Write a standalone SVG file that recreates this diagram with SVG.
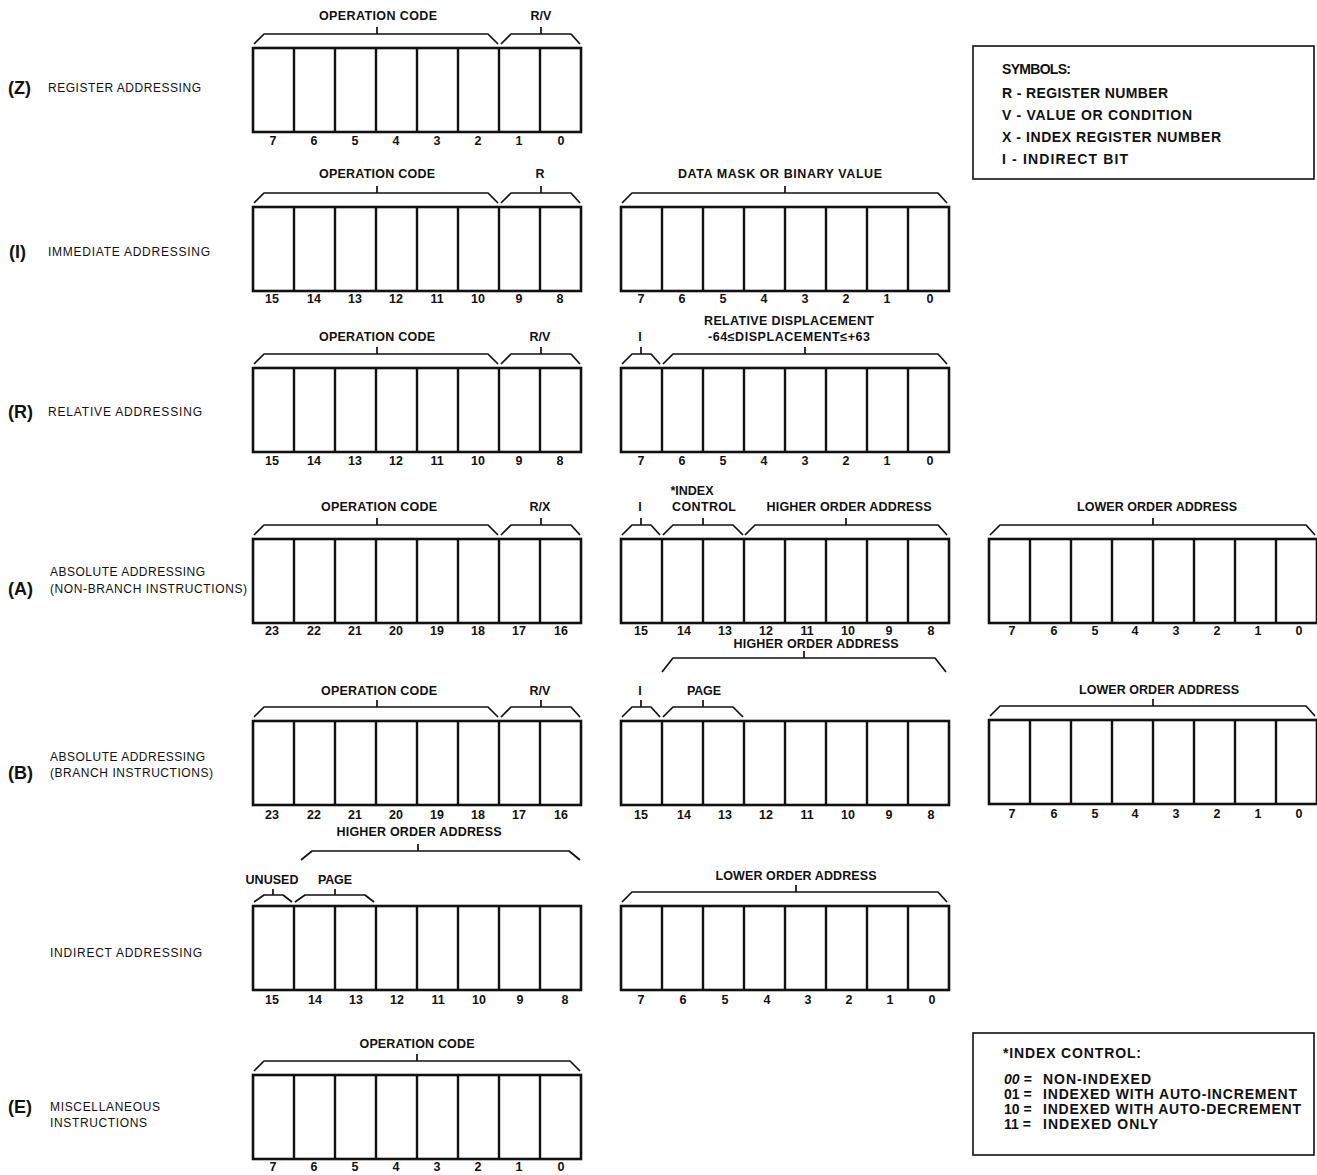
<svg xmlns="http://www.w3.org/2000/svg" xmlns:xlink="http://www.w3.org/1999/xlink" width="1317" height="1175" viewBox="0 0 1317 1175">
<style>
text{font-family:"Liberation Sans",Arial,sans-serif;fill:#111}
.lbl{font-size:12.5px;font-weight:bold;text-anchor:middle}
.num{font-size:12.5px;font-weight:bold;text-anchor:middle}
.row{font-size:12px}
.tag{font-size:18px;font-weight:bold}
.sym{font-size:14px;font-weight:bold}
.reg rect{fill:#fff;stroke:#111;stroke-width:2.6}
.reg path{fill:none;stroke:#111;stroke-width:2.4}
.br path{fill:none;stroke:#111;stroke-width:1.7;stroke-linejoin:round}
.box{fill:#fff;stroke:#111;stroke-width:1.6}
</style>
<defs>
<g id="r8" class="reg"><rect x="0" y="0" width="328" height="84"/><path d="M41 0V84M82 0V84M123 0V84M164 0V84M205 0V84M246 0V84M287 0V84"/></g>
</defs>

<g id="labels-left">
<text class="tag" x="8" y="94">(Z)</text><text class="row" x="48" y="92" textLength="153">REGISTER ADDRESSING</text>
<text class="tag" x="9" y="258">(I)</text><text class="row" x="48" y="256" textLength="162">IMMEDIATE ADDRESSING</text>
<text class="tag" x="8" y="418">(R)</text><text class="row" x="48" y="416" textLength="154">RELATIVE ADDRESSING</text>
<text class="row" x="50" y="576" textLength="155">ABSOLUTE ADDRESSING</text>
<text class="tag" x="8" y="595">(A)</text><text class="row" x="50" y="593" textLength="197">(NON-BRANCH INSTRUCTIONS)</text>
<text class="row" x="50" y="761" textLength="155">ABSOLUTE ADDRESSING</text>
<text class="tag" x="8" y="779">(B)</text><text class="row" x="50" y="777" textLength="163">(BRANCH INSTRUCTIONS)</text>
<text class="row" x="50" y="957" textLength="152">INDIRECT ADDRESSING</text>
<text class="tag" x="8" y="1113">(E)</text><text class="row" x="50" y="1111" textLength="110">MISCELLANEOUS</text>
<text class="row" x="50" y="1127" textLength="97">INSTRUCTIONS</text>
</g>

<g id="symbols">
<rect class="box" x="973" y="46" width="341" height="133"/>
<text class="sym" x="1002" y="74" textLength="69">SYMBOLS:</text>
<text class="sym" x="1002" y="98" textLength="166">R - REGISTER NUMBER</text>
<text class="sym" x="1002" y="120" textLength="190">V - VALUE OR CONDITION</text>
<text class="sym" x="1002" y="142" textLength="219">X - INDEX REGISTER NUMBER</text>
<text class="sym" x="1002" y="164" textLength="126">I  - INDIRECT BIT</text>
</g>

<g id="index-control">
<rect class="box" x="973" y="1033" width="341" height="122"/>
<text class="sym" x="1003" y="1058" textLength="138">*INDEX CONTROL:</text>
<text class="sym" x="1004" y="1084" font-style="italic">00 =</text><text class="sym" x="1043" y="1084" textLength="108">NON-INDEXED</text>
<text class="sym" x="1004" y="1099">01 =</text><text class="sym" x="1043" y="1099" textLength="254">INDEXED WITH AUTO-INCREMENT</text>
<text class="sym" x="1004" y="1114">10 =</text><text class="sym" x="1043" y="1114" textLength="258">INDEXED WITH AUTO-DECREMENT</text>
<text class="sym" x="1004" y="1129">11 =</text><text class="sym" x="1043" y="1129" textLength="115">INDEXED ONLY</text>
</g>

<g id="braces" class="br">
<path d="M254 44L264 34H488L498 44M377 34V27"/>
<path d="M501 44L511 34H571L580 44M541 34V27"/>
<path d="M254 203L264 193H488L498 203M377 193V186"/>
<path d="M501 203L511 193H571L580 203M541 193V186"/>
<path d="M622 203L632 193H938L947 203M785 193V186"/>
<path d="M254 364L264 354H488L498 364M377 354V347"/>
<path d="M501 364L511 354H571L580 364M541 354V347"/>
<path d="M622 364L632 354H651L660 364M641 354V347"/>
<path d="M663 364L673 354H938L947 364M805 354V347"/>
<path d="M254 535L264 525H488L498 535M377 525V518"/>
<path d="M501 535L511 525H571L580 535M541 525V518"/>
<path d="M622 535L632 525H651L660 535M641 525V518"/>
<path d="M663 535L673 525H733L743 535M703 525V518"/>
<path d="M745 535L755 525H938L947 535M846 525V518"/>
<path d="M990 535L1000 525H1306L1315 535M1153 525V518"/>
<path d="M662 672L673 658H935L946 672M804 658V651"/>
<path d="M254 717L264 707H488L498 717M377 707V700"/>
<path d="M501 717L511 707H571L580 717M541 707V700"/>
<path d="M622 717L632 707H651L660 717M641 707V700"/>
<path d="M663 717L673 707H733L743 717M703 707V700"/>
<path d="M990 716L1000 706H1306L1315 716M1153 706V699"/>
<path d="M301 860L312 851H569L580 860M418 851V844"/>
<path d="M254 902L264 895H283L292 902M273 895V889"/>
<path d="M295 902L305 895H365L374 902M335 895V889"/>
<path d="M622 902L632 892H938L947 902M796 892V885"/>
<path d="M254 1071L264 1061H570L580 1071M417 1061V1054"/>
</g>

<g id="brace-labels">
<text class="lbl" x="378" y="20" textLength="118">OPERATION CODE</text>
<text class="lbl" x="541" y="20">R/V</text>
<text class="lbl" x="377" y="178" textLength="116">OPERATION CODE</text>
<text class="lbl" x="540" y="178">R</text>
<text class="lbl" x="780" y="178" textLength="204">DATA MASK OR BINARY VALUE</text>
<text class="lbl" x="377" y="341" textLength="116">OPERATION CODE</text>
<text class="lbl" x="540" y="341">R/V</text>
<text class="lbl" x="640" y="341">I</text>
<text class="lbl" x="789" y="325" textLength="170">RELATIVE DISPLACEMENT</text>
<text class="lbl" x="789" y="341" textLength="162">-64≤DISPLACEMENT≤+63</text>
<text class="lbl" x="379" y="511" textLength="116">OPERATION CODE</text>
<text class="lbl" x="540" y="511">R/X</text>
<text class="lbl" x="640" y="511">I</text>
<text class="lbl" x="692" y="495">*INDEX</text>
<text class="lbl" x="704" y="511" textLength="64">CONTROL</text>
<text class="lbl" x="849" y="511" textLength="165">HIGHER ORDER ADDRESS</text>
<text class="lbl" x="1157" y="511" textLength="160">LOWER ORDER ADDRESS</text>
<text class="lbl" x="816" y="648" textLength="165">HIGHER ORDER ADDRESS</text>
<text class="lbl" x="379" y="695" textLength="116">OPERATION CODE</text>
<text class="lbl" x="540" y="695">R/V</text>
<text class="lbl" x="640" y="695">I</text>
<text class="lbl" x="704" y="695" textLength="34">PAGE</text>
<text class="lbl" x="1159" y="694" textLength="160">LOWER ORDER ADDRESS</text>
<text class="lbl" x="419" y="836" textLength="165">HIGHER ORDER ADDRESS</text>
<text class="lbl" x="272" y="884" textLength="53">UNUSED</text>
<text class="lbl" x="335" y="884" textLength="34">PAGE</text>
<text class="lbl" x="796" y="880" textLength="161">LOWER ORDER ADDRESS</text>
<text class="lbl" x="417" y="1048" textLength="115">OPERATION CODE</text>
</g>

<g id="reg-Z"><use xlink:href="#r8" x="253" y="48"/>
<text class="num" y="145"><tspan x="273">7</tspan><tspan x="314">6</tspan><tspan x="355">5</tspan><tspan x="396">4</tspan><tspan x="437">3</tspan><tspan x="478">2</tspan><tspan x="519">1</tspan><tspan x="561">0</tspan></text></g>

<g id="reg-I-hi"><use xlink:href="#r8" x="253" y="207"/>
<text class="num" y="303"><tspan x="272">15</tspan><tspan x="314">14</tspan><tspan x="355">13</tspan><tspan x="396">12</tspan><tspan x="437">11</tspan><tspan x="478">10</tspan><tspan x="519">9</tspan><tspan x="560">8</tspan></text></g>
<g id="reg-I-lo"><use xlink:href="#r8" x="621" y="207"/>
<text class="num" y="303"><tspan x="641">7</tspan><tspan x="682">6</tspan><tspan x="723">5</tspan><tspan x="764">4</tspan><tspan x="805">3</tspan><tspan x="846">2</tspan><tspan x="887">1</tspan><tspan x="930">0</tspan></text></g>

<g id="reg-R-hi"><use xlink:href="#r8" x="253" y="368"/>
<text class="num" y="465"><tspan x="272">15</tspan><tspan x="314">14</tspan><tspan x="355">13</tspan><tspan x="396">12</tspan><tspan x="437">11</tspan><tspan x="478">10</tspan><tspan x="519">9</tspan><tspan x="560">8</tspan></text></g>
<g id="reg-R-lo"><use xlink:href="#r8" x="621" y="368"/>
<text class="num" y="465"><tspan x="641">7</tspan><tspan x="682">6</tspan><tspan x="723">5</tspan><tspan x="764">4</tspan><tspan x="805">3</tspan><tspan x="846">2</tspan><tspan x="887">1</tspan><tspan x="930">0</tspan></text></g>

<g id="reg-A-op"><use xlink:href="#r8" x="253" y="539"/>
<text class="num" y="635"><tspan x="272">23</tspan><tspan x="314">22</tspan><tspan x="355">21</tspan><tspan x="396">20</tspan><tspan x="437">19</tspan><tspan x="478">18</tspan><tspan x="519">17</tspan><tspan x="561">16</tspan></text></g>
<g id="reg-A-hi"><use xlink:href="#r8" x="621" y="539"/>
<text class="num" y="635"><tspan x="641">15</tspan><tspan x="684">14</tspan><tspan x="725">13</tspan><tspan x="766">12</tspan><tspan x="807">11</tspan><tspan x="848">10</tspan><tspan x="889">9</tspan><tspan x="931">8</tspan></text></g>
<g id="reg-A-lo"><use xlink:href="#r8" x="989" y="539"/>
<text class="num" y="635"><tspan x="1012">7</tspan><tspan x="1054">6</tspan><tspan x="1095">5</tspan><tspan x="1135">4</tspan><tspan x="1176">3</tspan><tspan x="1217">2</tspan><tspan x="1258">1</tspan><tspan x="1299">0</tspan></text></g>

<g id="reg-B-op"><use xlink:href="#r8" x="253" y="721"/>
<text class="num" y="819"><tspan x="272">23</tspan><tspan x="314">22</tspan><tspan x="355">21</tspan><tspan x="396">20</tspan><tspan x="437">19</tspan><tspan x="478">18</tspan><tspan x="519">17</tspan><tspan x="561">16</tspan></text></g>
<g id="reg-B-hi"><use xlink:href="#r8" x="621" y="721"/>
<text class="num" y="819"><tspan x="641">15</tspan><tspan x="684">14</tspan><tspan x="725">13</tspan><tspan x="766">12</tspan><tspan x="807">11</tspan><tspan x="848">10</tspan><tspan x="889">9</tspan><tspan x="931">8</tspan></text></g>
<g id="reg-B-lo"><use xlink:href="#r8" x="989" y="720"/>
<text class="num" y="818"><tspan x="1012">7</tspan><tspan x="1054">6</tspan><tspan x="1095">5</tspan><tspan x="1135">4</tspan><tspan x="1176">3</tspan><tspan x="1217">2</tspan><tspan x="1258">1</tspan><tspan x="1299">0</tspan></text></g>

<g id="reg-Ind-hi"><use xlink:href="#r8" x="253" y="906"/>
<text class="num" y="1004"><tspan x="272">15</tspan><tspan x="315">14</tspan><tspan x="356">13</tspan><tspan x="397">12</tspan><tspan x="438">11</tspan><tspan x="479">10</tspan><tspan x="520">9</tspan><tspan x="565">8</tspan></text></g>
<g id="reg-Ind-lo"><use xlink:href="#r8" x="621" y="906"/>
<text class="num" y="1004"><tspan x="641">7</tspan><tspan x="683">6</tspan><tspan x="725">5</tspan><tspan x="767">4</tspan><tspan x="808">3</tspan><tspan x="849">2</tspan><tspan x="890">1</tspan><tspan x="932">0</tspan></text></g>

<g id="reg-E"><use xlink:href="#r8" x="253" y="1075"/>
<text class="num" y="1171"><tspan x="273">7</tspan><tspan x="314">6</tspan><tspan x="355">5</tspan><tspan x="396">4</tspan><tspan x="437">3</tspan><tspan x="478">2</tspan><tspan x="519">1</tspan><tspan x="561">0</tspan></text></g>
</svg>
